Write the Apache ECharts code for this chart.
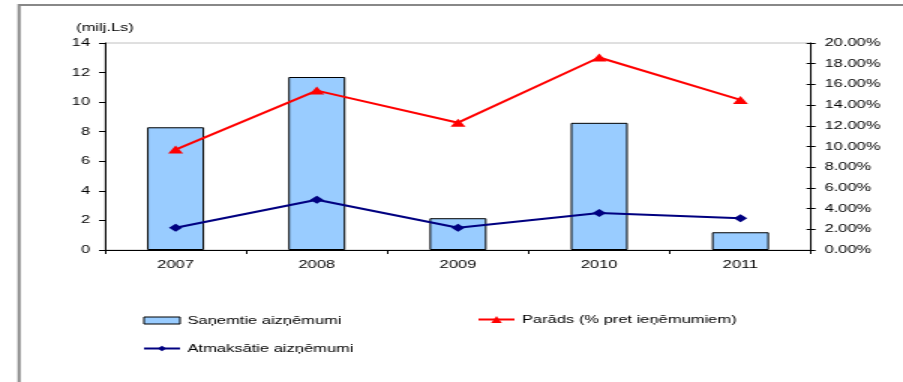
<!DOCTYPE html>
<html>
<head>
<meta charset="utf-8">
<script src="https://cdn.jsdelivr.net/npm/echarts@6/dist/echarts.min.js"></script>
<style>
  html, body { margin: 0; padding: 0; background: #fff; overflow: hidden; }
  #wrap { width: 903px; height: 382px; overflow: hidden; }
  /* chart is laid out at 602px and widened 1.5x, like the wide-format sheet export */
  #chart { width: 602px; height: 382px; transform: scaleX(1.5); transform-origin: 0 0; }
</style>
</head>
<body>
<div id="wrap"><div id="chart"></div></div>
<script>
// Years on the category axis
const years = ['2007', '2008', '2009', '2010', '2011'];
// Loans received, million Ls (bars, left axis)
const loansReceived = [8.3, 11.7, 2.15, 8.6, 1.2];
// Loans repaid, million Ls (line, left axis)
const loansRepaid = [1.5, 3.4, 1.5, 2.5, 2.15];
// Debt as % of revenue (line, right axis)
const debtPercent = [9.7, 15.4, 12.3, 18.6, 14.5];

const NAME_RECEIVED = 'Saņemtie aizņēmumi';
const NAME_DEBT = 'Parāds (% pret ieņēmumiem)';
const NAME_REPAID = 'Atmaksātie aizņēmumi';

const FONT = 'Liberation Sans, Arial, sans-serif';
const txt = { color: '#000', fontFamily: FONT, fontSize: 11 };

const chart = echarts.init(document.getElementById('chart'), null, { renderer: 'canvas' });

chart.setOption({
  animation: false,
  backgroundColor: '#fff',
  textStyle: { fontFamily: FONT },
  graphic: [{
    type: 'polyline',
    shape: { points: [[12.7, 400], [12.7, 5], [700, 5]] },
    style: { stroke: '#888', lineWidth: 2, fill: null },
    silent: true
  }],
  grid: {
    left: 70, right: 61.3, top: 43, bottom: 132,
    show: true, borderColor: '#c0c0c0', borderWidth: 1, backgroundColor: 'transparent'
  },
  legend: [{
    data: [
      { name: NAME_RECEIVED, icon: 'rect', itemStyle: { borderWidth: 1, borderColor: '#000' } },
      NAME_REPAID
    ],
    orient: 'vertical',
    left: 95, top: 315, padding: 0,
    itemWidth: 24, itemHeight: 7, itemGap: 17,
    textStyle: txt
  }, {
    data: [NAME_DEBT],
    orient: 'vertical',
    left: 318, top: 314, padding: 0,
    itemWidth: 24, itemHeight: 9,
    textStyle: txt
  }],
  xAxis: {
    type: 'category',
    data: years,
    boundaryGap: true,
    axisLine: { lineStyle: { color: '#000', width: 1 } },
    axisTick: { show: true, length: 4, lineStyle: { color: '#000' } },
    axisLabel: Object.assign({ margin: 9 }, txt),
    splitLine: { show: false }
  },
  yAxis: [{
    type: 'value',
    min: 0, max: 14, interval: 2,
    position: 'left',
    name: '(milj.Ls)',
    nameLocation: 'end',
    nameGap: 10,
    nameTextStyle: txt,
    axisLine: { show: true, lineStyle: { color: '#000', width: 1 } },
    axisTick: { show: true, length: 4, lineStyle: { color: '#000' } },
    axisLabel: Object.assign({ margin: 10 }, txt),
    splitLine: { show: false }
  }, {
    type: 'value',
    min: 0, max: 20, interval: 2,
    position: 'right',
    axisLine: { show: true, lineStyle: { color: '#000', width: 1 } },
    axisTick: { show: true, length: 3, lineStyle: { color: '#000' } },
    axisLabel: Object.assign({ margin: 9, formatter: v => v.toFixed(2) + '%' }, txt),
    splitLine: { show: false }
  }, {
    // inward half of the crossing ticks on the percent axis
    type: 'value',
    min: 0, max: 20, interval: 2,
    position: 'right',
    axisLine: { show: false },
    axisTick: { show: true, inside: true, length: 3, lineStyle: { color: '#000' } },
    axisLabel: { show: false },
    splitLine: { show: false }
  }],
  series: [{
    name: NAME_RECEIVED,
    type: 'bar',
    yAxisIndex: 0,
    data: loansReceived,
    barWidth: 38,
    itemStyle: { color: '#99ccff', borderColor: '#000', borderWidth: 1 },
    z: 1
  }, {
    name: NAME_DEBT,
    type: 'line',
    yAxisIndex: 1,
    data: debtPercent,
    symbol: 'triangle',
    symbolSize: [10, 8],
    showAllSymbol: true,
    lineStyle: { color: '#ff0000', width: 2 },
    itemStyle: { color: '#ff0000' },
    z: 3
  }, {
    name: NAME_REPAID,
    type: 'line',
    yAxisIndex: 0,
    data: loansRepaid,
    symbol: 'diamond',
    symbolSize: [9, 8],
    showAllSymbol: true,
    lineStyle: { color: '#000080', width: 2 },
    itemStyle: { color: '#000080' },
    z: 3
  }]
});
</script>
</body>
</html>
